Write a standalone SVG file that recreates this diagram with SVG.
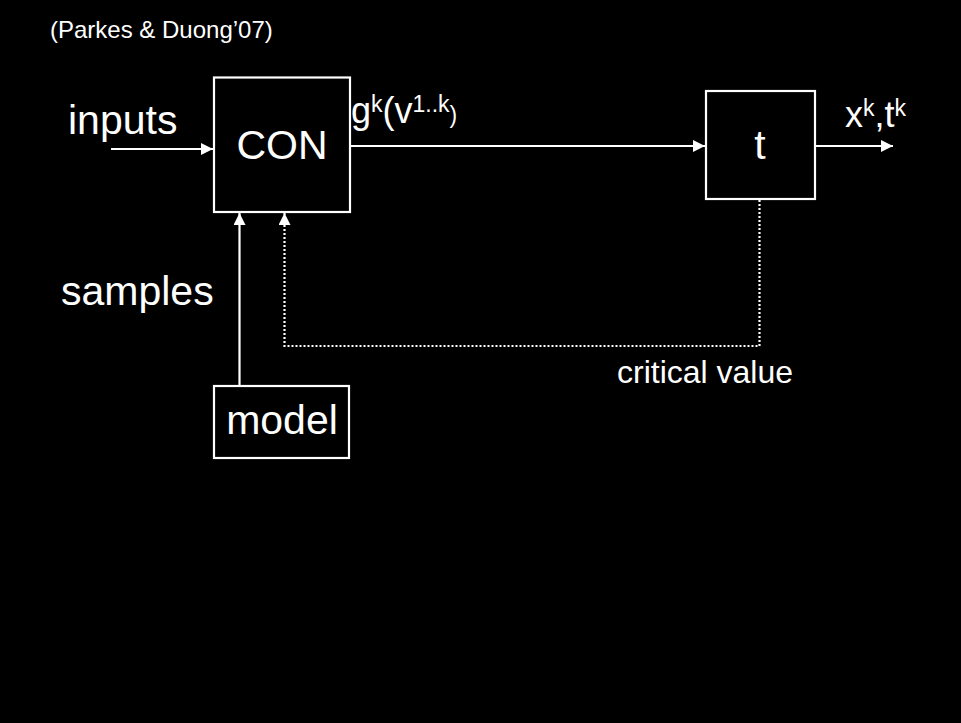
<svg xmlns="http://www.w3.org/2000/svg" width="961" height="723" viewBox="0 0 961 723">
  <defs>
    <marker id="arrow" viewBox="0 0 12 12" refX="12" refY="6" markerWidth="12" markerHeight="12" markerUnits="userSpaceOnUse" orient="auto">
      <path d="M0,0 L12,6 L0,12 Z" fill="#ffffff"/>
    </marker>
    <style>
      text { font-family: "Liberation Sans", Arial, sans-serif; fill: #ffffff; }
      .box { fill: none; stroke: #ffffff; stroke-width: 2.2; }
      .wire { fill: none; stroke: #ffffff; stroke-width: 2.2; }
      .dotted { stroke-dasharray: 2 2; }
      .big { font-size: 41px; }
      .mid { font-size: 32px; }
      .lbl { font-size: 36px; }
      .sup { font-size: 23px; }
    </style>
  </defs>

  <rect x="0" y="0" width="961" height="723" fill="#000000"/>

  <text x="50" y="38" font-size="24">(Parkes &amp; Duong’07)</text>

  <!-- connectors -->
  <g id="connectors">
    <line class="wire" x1="111" y1="149" x2="213" y2="149" marker-end="url(#arrow)"/>
    <line class="wire" x1="351" y1="146" x2="705" y2="146" marker-end="url(#arrow)"/>
    <line class="wire" x1="815" y1="146" x2="893" y2="146" marker-end="url(#arrow)"/>
    <line class="wire" x1="239.5" y1="385" x2="239.5" y2="213" marker-end="url(#arrow)"/>
    <polyline class="wire dotted" points="759.5,200 759.5,346 284.5,346 284.5,213" marker-end="url(#arrow)"/>
  </g>

  <!-- labels on connectors -->
  <text class="big" x="68" y="134">inputs</text>
  <text class="big" x="61" y="305">samples</text>
  <text class="mid" x="617" y="383">critical value</text>
  <text class="lbl" x="351" y="123">g<tspan class="sup" dy="-11">k</tspan><tspan dy="11">(v</tspan><tspan class="sup" dy="-11">1..k</tspan><tspan class="sup" dy="11">)</tspan></text>
  <text class="lbl" x="845" y="127">x<tspan class="sup" dy="-11">k</tspan><tspan dy="11">,t</tspan><tspan class="sup" dy="-11">k</tspan></text>

  <g id="con">
    <rect class="box" x="214" y="77.5" width="136" height="134.5"/>
    <text class="big" x="282" y="159" text-anchor="middle">CON</text>
  </g>

  <g id="t">
    <rect class="box" x="706" y="91" width="109" height="108"/>
    <text class="big" x="760" y="159" text-anchor="middle">t</text>
  </g>

  <g id="model">
    <rect class="box" x="214" y="386" width="135" height="72"/>
    <text class="big" x="282" y="434" text-anchor="middle">model</text>
  </g>
</svg>
